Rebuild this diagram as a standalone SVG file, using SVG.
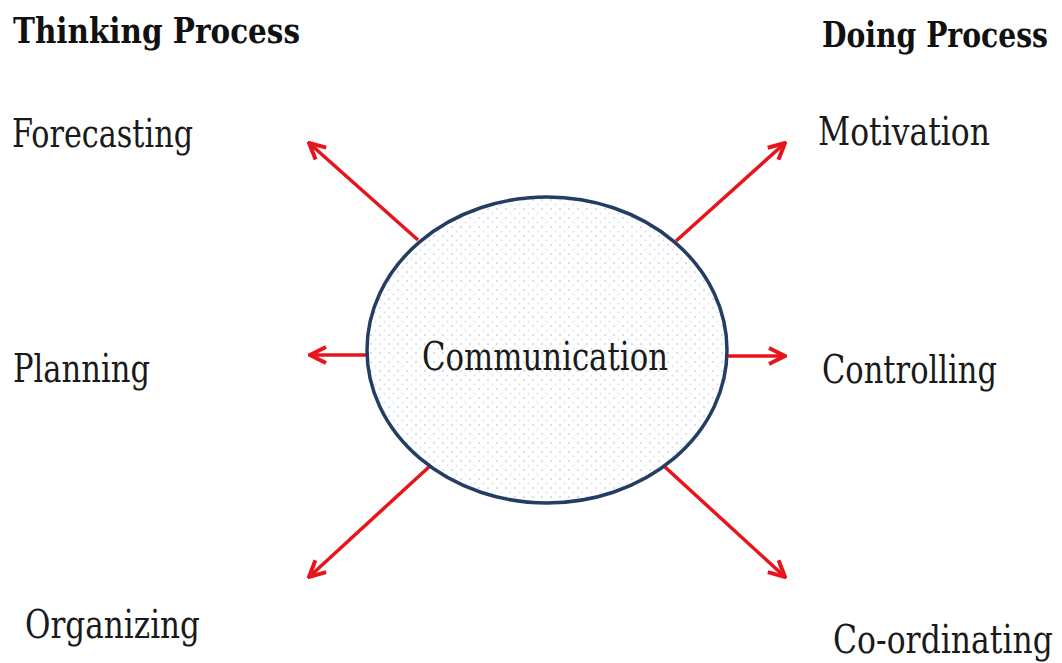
<svg xmlns="http://www.w3.org/2000/svg" width="1062" height="663" viewBox="0 0 1062 663">
  <style>
    .lbl { font-family: "DejaVu Serif", "Liberation Serif", serif; font-size: 39px; fill: #1a1a1a; }
    .hd { font-family: "DejaVu Serif", "Liberation Serif", serif; font-size: 36px; font-weight: bold; fill: #111; }
    .arr { stroke: #e8141c; stroke-width: 3.5; fill: none; marker-end: url(#ah); }
  </style>
  <defs>
    <pattern id="dots" width="9" height="9" patternUnits="userSpaceOnUse">
      <rect width="9" height="9" fill="#ffffff"/>
      <circle cx="2" cy="2" r="0.9" fill="#c3d3e6"/>
      <circle cx="6.5" cy="6.5" r="0.9" fill="#d6e1ee"/>
    </pattern>
    <marker id="ah" viewBox="0 0 20 20" refX="18" refY="10" markerWidth="20" markerHeight="20" markerUnits="userSpaceOnUse" orient="auto">
      <path d="M2,2 L18,10 L2,18" fill="none" stroke="#e8141c" stroke-width="4" stroke-linejoin="miter"/>
    </marker>
  </defs>
  <rect width="1062" height="663" fill="#ffffff"/>

  <g id="connectors">
    <line class="arr" x1="418" y1="240" x2="309" y2="143"/>
    <line class="arr" x1="676" y1="241" x2="785" y2="143"/>
    <line class="arr" x1="367" y1="355" x2="310" y2="355"/>
    <line class="arr" x1="727" y1="356" x2="785" y2="356"/>
    <line class="arr" x1="430" y1="466" x2="309" y2="577"/>
    <line class="arr" x1="665" y1="467" x2="785" y2="577"/>
  </g>

  <g id="communication">
    <ellipse cx="547" cy="350" rx="180" ry="153" fill="url(#dots)" stroke="#243d63" stroke-width="3.5"/>
    <text class="lbl" x="422" y="370" textLength="246" lengthAdjust="spacingAndGlyphs">Communication</text>
  </g>

  <g id="thinking-process">
    <text class="hd" x="13" y="43" textLength="287" lengthAdjust="spacingAndGlyphs">Thinking Process</text>
  </g>
  <g id="doing-process">
    <text class="hd" x="822" y="47" textLength="226" lengthAdjust="spacingAndGlyphs">Doing Process</text>
  </g>
  <g id="forecasting">
    <text class="lbl" x="12" y="147" textLength="181" lengthAdjust="spacingAndGlyphs">Forecasting</text>
  </g>
  <g id="motivation">
    <text class="lbl" x="818" y="145" textLength="172" lengthAdjust="spacingAndGlyphs">Motivation</text>
  </g>
  <g id="planning">
    <text class="lbl" x="13" y="382" textLength="137" lengthAdjust="spacingAndGlyphs">Planning</text>
  </g>
  <g id="controlling">
    <text class="lbl" x="822" y="383" textLength="175" lengthAdjust="spacingAndGlyphs">Controlling</text>
  </g>
  <g id="organizing">
    <text class="lbl" x="25" y="638" textLength="175" lengthAdjust="spacingAndGlyphs">Organizing</text>
  </g>
  <g id="co-ordinating">
    <text class="lbl" x="833" y="653" textLength="220" lengthAdjust="spacingAndGlyphs">Co-ordinating</text>
  </g>
</svg>
